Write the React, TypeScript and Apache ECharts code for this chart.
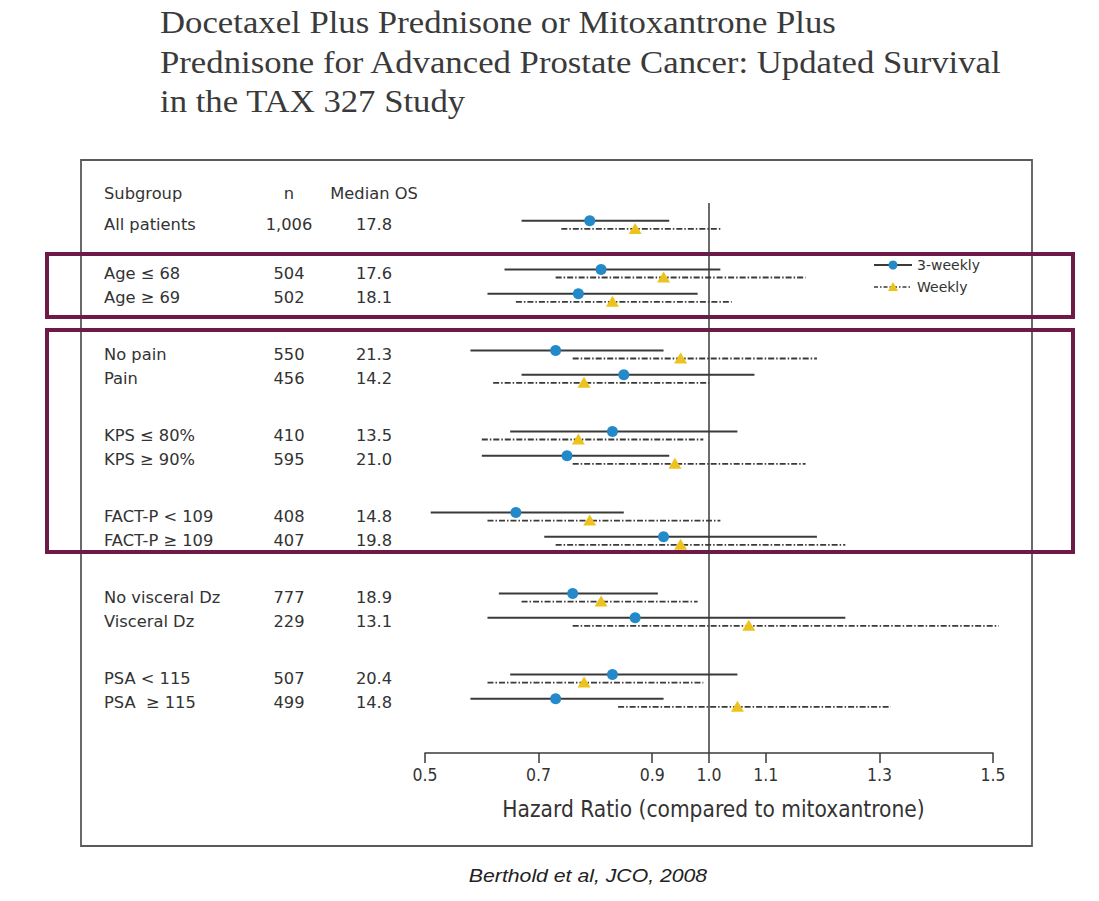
import React, { useEffect, useRef } from "react";
import * as echarts from "echarts";

// ---------- data ----------
const subgroups = [
  "All patients",
  "Age ≤ 68",
  "Age ≥ 69",
  "No pain",
  "Pain",
  "KPS ≤ 80%",
  "KPS ≥ 90%",
  "FACT-P < 109",
  "FACT-P ≥ 109",
  "No visceral Dz",
  "Visceral Dz",
  "PSA < 115",
  "PSA  ≥ 115",
];
const groupOf = [0, 1, 1, 2, 2, 3, 3, 4, 4, 5, 5, 6, 6];
const nPatients = ["1,006", "504", "502", "550", "456", "410", "595", "408", "407", "777", "229", "507", "499"];
const medianOS = ["17.8", "17.6", "18.1", "21.3", "14.2", "13.5", "21.0", "14.8", "19.8", "18.9", "13.1", "20.4", "14.8"];

// 3-weekly docetaxel vs mitoxantrone
const hr3w = [0.79, 0.81, 0.77, 0.73, 0.85, 0.83, 0.75, 0.66, 0.92, 0.76, 0.87, 0.83, 0.73];
const lo3w = [0.67, 0.64, 0.61, 0.58, 0.67, 0.65, 0.6, 0.51, 0.71, 0.63, 0.61, 0.65, 0.58];
const hi3w = [0.93, 1.02, 0.98, 0.92, 1.08, 1.05, 0.93, 0.85, 1.19, 0.91, 1.24, 1.05, 0.92];

// weekly docetaxel vs mitoxantrone
const hrWk = [0.87, 0.92, 0.83, 0.95, 0.78, 0.77, 0.94, 0.79, 0.95, 0.81, 1.07, 0.78, 1.05];
const loWk = [0.74, 0.73, 0.66, 0.76, 0.62, 0.6, 0.76, 0.61, 0.73, 0.67, 0.76, 0.61, 0.84];
const hiWk = [1.02, 1.17, 1.04, 1.19, 1.0, 0.99, 1.17, 1.02, 1.24, 0.98, 1.51, 0.99, 1.32];

const axisTicks = [0.5, 0.7, 0.9, 1.0, 1.1, 1.3, 1.5];
const headers = ["Subgroup", "n", "Median OS"];
const titleLines = [
  "Docetaxel Plus Prednisone or Mitoxantrone Plus",
  "Prednisone for Advanced Prostate Cancer: Updated Survival",
  "in the TAX 327 Study",
];
const citation = "Berthold et al, JCO, 2008";
const axisTitle = "Hazard Ratio (compared to mitoxantrone)";
const seriesNames = ["3-weekly", "Weekly"];

// ---------- layout helpers ----------
const rowPos = groupOf.map((g, i) => {
  const start = g === 0 ? 0 : 6 + (g - 1) * 10;
  const k = groupOf.slice(0, i).filter((x) => x === g).length;
  return start + 3 * k;
});

const TEXT = "#333333";
const LINE = "#3a3a3a";
const BLUE = "#2389c9";
const YELLOW = "#eec21c";
const PURPLE = "#6e1a48";
const SANS = "'DejaVu Sans', sans-serif";
const COND = "'DejaVu Sans Condensed', 'Liberation Sans Narrow', sans-serif";
const DASH = [6, 2, 1.5, 2];

export default function App() {
  const ref = useRef<HTMLDivElement>(null);
  useEffect(() => {
    if (!ref.current) return;
    const chart = echarts.init(ref.current, undefined, { renderer: "svg" });

    const ciRender = (weekly: boolean) => (params: any, api: any) => {
      const y = api.value(3);
      const pLo = api.coord([api.value(0), y]);
      const pEst = api.coord([api.value(1), y]);
      const pHi = api.coord([api.value(2), y]);
      const marker = weekly
        ? {
            type: "polygon",
            shape: {
              points: [
                [pEst[0], pEst[1] - 6],
                [pEst[0] - 6.5, pEst[1] + 5],
                [pEst[0] + 6.5, pEst[1] + 5],
              ],
            },
            style: { fill: YELLOW },
          }
        : {
            type: "circle",
            shape: { cx: pEst[0], cy: pEst[1], r: 5.5 },
            style: { fill: BLUE },
          };
      return {
        type: "group",
        children: [
          {
            type: "line",
            shape: { x1: pLo[0], y1: pLo[1], x2: pHi[0], y2: pHi[1] },
            style: weekly
              ? { stroke: LINE, lineWidth: 1.8, lineDash: DASH }
              : { stroke: LINE, lineWidth: 2 },
          },
          marker,
        ],
      };
    };

    const tableRender = (params: any, api: any) => {
      const i = params.dataIndex;
      const y = api.coord([0.5, api.value(1)])[1];
      const st = { fontSize: 16.3, fontFamily: SANS, fill: TEXT, verticalAlign: "middle" };
      return {
        type: "group",
        children: [
          { type: "text", x: 104, y, style: { ...st, text: subgroups[i], align: "left" } },
          { type: "text", x: 289, y, style: { ...st, text: nPatients[i], align: "center" } },
          { type: "text", x: 374, y, style: { ...st, text: medianOS[i], align: "center" } },
        ],
      };
    };

    const hdrStyle = { fontSize: 16.3, fontFamily: SANS, fill: TEXT, verticalAlign: "middle" };

    chart.setOption({
      animation: false,
      backgroundColor: "#ffffff",
      grid: { left: 425, right: 106, top: 203, bottom: 148 },
      xAxis: {
        type: "value",
        min: 0.5,
        max: 1.5,
        name: axisTitle,
        nameLocation: "middle",
        nameGap: 44,
        nameTextStyle: { fontSize: 22.5, fontFamily: COND, color: TEXT, padding: [0, 0, 0, 9] },
        splitLine: { show: false },
        axisLine: { onZero: false, lineStyle: { color: LINE, width: 1.5 } },
        axisTick: { customValues: axisTicks, length: 10, lineStyle: { color: LINE, width: 1.5 } },
        axisLabel: {
          customValues: axisTicks,
          formatter: (v: number) => v.toFixed(1),
          fontSize: 17.5,
          fontFamily: COND,
          color: TEXT,
          margin: 13,
        },
      },
      yAxis: { type: "value", inverse: true, min: -2.7, max: 65.2, show: false },
      series: [
        {
          type: "custom",
          name: "table",
          renderItem: tableRender,
          data: rowPos.map((p) => [0.5, p]),
          encode: { x: 0, y: 1 },
          silent: true,
        },
        {
          type: "custom",
          name: seriesNames[0],
          renderItem: ciRender(false),
          data: subgroups.map((_, i) => [lo3w[i], hr3w[i], hi3w[i], rowPos[i] - 0.5]),
          encode: { x: [0, 1, 2], y: 3 },
          z: 3,
          markLine: {
            silent: true,
            symbol: "none",
            label: { show: false },
            lineStyle: { color: LINE, width: 1.5, type: "solid" },
            data: [{ xAxis: 1.0 }],
          },
        },
        {
          type: "custom",
          name: seriesNames[1],
          renderItem: ciRender(true),
          data: subgroups.map((_, i) => [loWk[i], hrWk[i], hiWk[i], rowPos[i] + 0.5]),
          encode: { x: [0, 1, 2], y: 3 },
          z: 2,
        },
      ],
      graphic: [
        // title
        ...titleLines.map((t, i) => ({
          type: "text",
          x: 160,
          y: 23 + i * 39.5,
          scaleX: 1.12,
          style: {
            text: t,
            fontSize: 31,
            fontFamily: "'Liberation Serif', serif",
            fill: "#3a3a3a",
            verticalAlign: "middle",
          },
        })),
        // outer frame
        {
          type: "rect",
          shape: { x: 81, y: 160, width: 951, height: 686 },
          style: { fill: "none", stroke: "#5a5a5a", lineWidth: 1.8 },
          z: 1,
        },
        // highlight boxes
        {
          type: "rect",
          shape: { x: 47, y: 254, width: 1026, height: 63 },
          style: { fill: "none", stroke: PURPLE, lineWidth: 4 },
          z: 5,
        },
        {
          type: "rect",
          shape: { x: 47, y: 330, width: 1026, height: 222 },
          style: { fill: "none", stroke: PURPLE, lineWidth: 4 },
          z: 5,
        },
        // header
        { type: "text", x: 104, y: 193, style: { ...hdrStyle, text: headers[0], align: "left" } },
        { type: "text", x: 289, y: 193, style: { ...hdrStyle, text: headers[1], align: "center" } },
        { type: "text", x: 374, y: 193, style: { ...hdrStyle, text: headers[2], align: "center" } },
        // legend
        {
          type: "group",
          children: [
            { type: "line", shape: { x1: 874, y1: 265, x2: 912, y2: 265 }, style: { stroke: LINE, lineWidth: 1.8 } },
            { type: "circle", shape: { cx: 893, cy: 265, r: 4.5 }, style: { fill: BLUE } },
            {
              type: "text",
              x: 917,
              y: 265,
              style: { text: seriesNames[0], fontSize: 14, fontFamily: SANS, fill: TEXT, verticalAlign: "middle" },
            },
            {
              type: "line",
              shape: { x1: 874, y1: 287, x2: 912, y2: 287 },
              style: { stroke: LINE, lineWidth: 1.5, lineDash: [4, 2, 1.5, 2] },
            },
            {
              type: "polygon",
              shape: { points: [[893, 282], [888, 291], [898, 291]] },
              style: { fill: YELLOW },
            },
            {
              type: "text",
              x: 917,
              y: 287,
              style: { text: seriesNames[1], fontSize: 14, fontFamily: SANS, fill: TEXT, verticalAlign: "middle" },
            },
          ],
        },
        // citation
        {
          type: "text",
          x: 588,
          y: 876,
          scaleX: 1.18,
          style: {
            text: citation,
            fontSize: 18,
            fontStyle: "italic",
            fontFamily: "'Liberation Sans', Arial, sans-serif",
            fill: "#222",
            align: "center",
            verticalAlign: "middle",
          },
        },
      ],
    });
    return () => chart.dispose();
  }, []);
  return (
    <div
      ref={ref}
      style={{ position: "absolute", left: 0, top: 0, width: 1099, height: 901, background: "#fff" }}
    />
  );
}
